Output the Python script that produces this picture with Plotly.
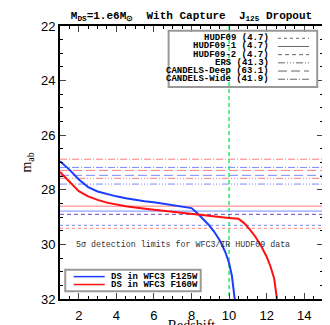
import plotly.graph_objects as go

# ---- data ----
surveys = ["HUDF09", "HUDF09-1", "HUDF09-2", "ERS", "CANDELS-Deep", "CANDELS-Wide"]
areas = [4.7, 4.7, 4.7, 41.3, 63.1, 41.9]
lim_f125w = [29.30, 28.78, 28.90, 27.79, 27.47, 27.18]
lim_f160w = [29.41, 28.60, 28.90, 27.58, 27.29, 26.88]
survey_dash = ["dot", "solid", "4px,3px", "7px,2px,1px,2px,1px,2px,1px,2px", "9px,4px", "7px,2px,1px,2px"]

z_f125w = [1.0, 1.5, 2.0, 2.5, 3.0, 3.5, 4.0, 4.5, 5.0, 5.5, 6.0, 6.5, 7.0, 7.5, 8.0,
           8.3, 8.6, 8.9, 9.2, 9.5, 9.8, 10.0, 10.15, 10.3]
m_f125w = [26.95, 27.26, 27.62, 27.90, 28.06, 28.16, 28.24, 28.31, 28.37, 28.42, 28.46, 28.51,
           28.56, 28.61, 28.67, 28.85, 29.05, 29.27, 29.53, 29.85, 30.28, 30.68, 31.15, 32.0]
z_f160w = [1.0, 1.5, 2.0, 2.5, 3.0, 3.5, 4.0, 4.5, 5.0, 5.5, 6.0, 6.5, 7.0, 7.5, 8.0, 8.5,
           9.0, 9.5, 10.0, 10.5, 10.8, 11.1, 11.4, 11.7, 12.0, 12.2, 12.4, 12.55]
m_f160w = [27.35, 27.70, 28.05, 28.24, 28.37, 28.47, 28.54, 28.60, 28.65, 28.68, 28.73, 28.77,
           28.81, 28.85, 28.89, 28.93, 28.96, 29.00, 29.03, 29.06, 29.22, 29.45, 29.72, 30.05,
           30.45, 30.80, 31.25, 32.0]
curve_names = ["DS in WFC3 F125W", "DS in WFC3 F160W"]
curve_colors = ["#1a3cff", "#ff1010"]
dropout_z = 10
x_range = [1, 15]
y_range = [22, 32]

fig = go.Figure()

for lim, col in ((lim_f160w, "rgba(255,40,40,0.6)"), (lim_f125w, "rgba(30,60,255,0.6)")):
    for v, d in zip(lim, survey_dash):
        fig.add_trace(go.Scatter(x=x_range, y=[v, v], mode="lines",
                                 line=dict(color=col, width=1, dash=d),
                                 showlegend=False, hoverinfo="skip"))

fig.add_trace(go.Scatter(x=[dropout_z, dropout_z], y=y_range, mode="lines",
                         line=dict(color="#22ee66", width=1.5, dash="4px,3px"),
                         showlegend=False))

fig.add_trace(go.Scatter(x=z_f125w, y=m_f125w, mode="lines", name=curve_names[0],
                         line=dict(color=curve_colors[0], width=2), showlegend=False))
fig.add_trace(go.Scatter(x=z_f160w, y=m_f160w, mode="lines", name=curve_names[1],
                         line=dict(color=curve_colors[1], width=2), showlegend=False))

shapes = []
annotations = []
mono = "Liberation Mono"

# top-right survey key
shapes.append(dict(type="rect", xref="paper", yref="paper", x0=0.413, x1=0.978, y0=0.777, y1=0.983,
                   line=dict(color="#999999", width=2), layer="above"))
row_y = [0.955, 0.925, 0.895, 0.865, 0.835, 0.805]
for name, a, d, yy in zip(surveys, areas, survey_dash, row_y):
    annotations.append(dict(xref="paper", yref="paper", x=0.802, y=yy, xanchor="right", yanchor="middle",
                            text=f"<b>{name} ({a})</b>", showarrow=False,
                            font=dict(family=mono, size=9, color="black")))
    shapes.append(dict(type="line", xref="paper", yref="paper", x0=0.829, x1=0.947, y0=yy, y1=yy,
                       line=dict(color="#666666", width=1, dash=d), layer="above"))

# bottom-left curve key
shapes.append(dict(type="rect", xref="paper", yref="paper", x0=0.02, x1=0.535, y0=0.028, y1=0.107,
                   line=dict(color="#999999", width=2), layer="above"))
for name, col, yy in zip(curve_names, curve_colors, [0.082, 0.053]):
    shapes.append(dict(type="line", xref="paper", yref="paper", x0=0.052, x1=0.17, y0=yy, y1=yy,
                       line=dict(color=col, width=1.5), layer="above"))
    annotations.append(dict(xref="paper", yref="paper", x=0.188, y=yy, xanchor="left", yanchor="middle",
                            text=f"<b>{name}</b>", showarrow=False,
                            font=dict(family=mono, size=9, color="black")))

annotations.append(dict(x=7.55, y=30, xref="x", yref="y", text="5σ detection limits for WFC3/IR HUDF09 data",
                        showarrow=False, font=dict(family=mono, size=8.3, color="#333333")))

fig.update_layout(
    width=330, height=325,
    margin=dict(l=52, r=15, t=18, b=34),
    paper_bgcolor="white", plot_bgcolor="white",
    title=dict(text="<b>M<sub>DS</sub>=1.e6M<sub>⊙</sub>  With Capture  J<sub>125</sub> Dropout</b>",
               x=0.5, xref="paper", xanchor="center", y=0.99, yanchor="top",
               font=dict(family=mono, size=11, color="black")),
    shapes=shapes, annotations=annotations,
    showlegend=False,
)
fig.update_xaxes(range=x_range, dtick=2, tick0=0, ticks="inside", ticklen=6, tickwidth=1,
                 mirror="allticks", showline=True, linecolor="black", linewidth=2,
                 showgrid=False, zeroline=False, automargin=False, ticklabelstandoff=3,
                 minor=dict(dtick=0.5, ticks="inside", ticklen=3, tickcolor="black"),
                 tickfont=dict(family="Liberation Sans", size=13, color="black"),
                 title=dict(text="Redshift", font=dict(family="Liberation Serif", size=14, color="black"),
                            standoff=10))
fig.update_yaxes(range=[y_range[1], y_range[0]], dtick=2, ticks="inside", ticklen=6, tickwidth=1,
                 mirror="allticks", showline=True, linecolor="black", linewidth=2,
                 showgrid=False, zeroline=False, automargin=False,
                 minor=dict(dtick=0.5, ticks="inside", ticklen=3, tickcolor="black"),
                 tickfont=dict(family="Liberation Sans", size=13, color="black"),
                 title=dict(text="m<sub>ab</sub>", font=dict(family="Liberation Serif", size=14, color="black"),
                            standoff=6))

fig.write_html("out.html")
